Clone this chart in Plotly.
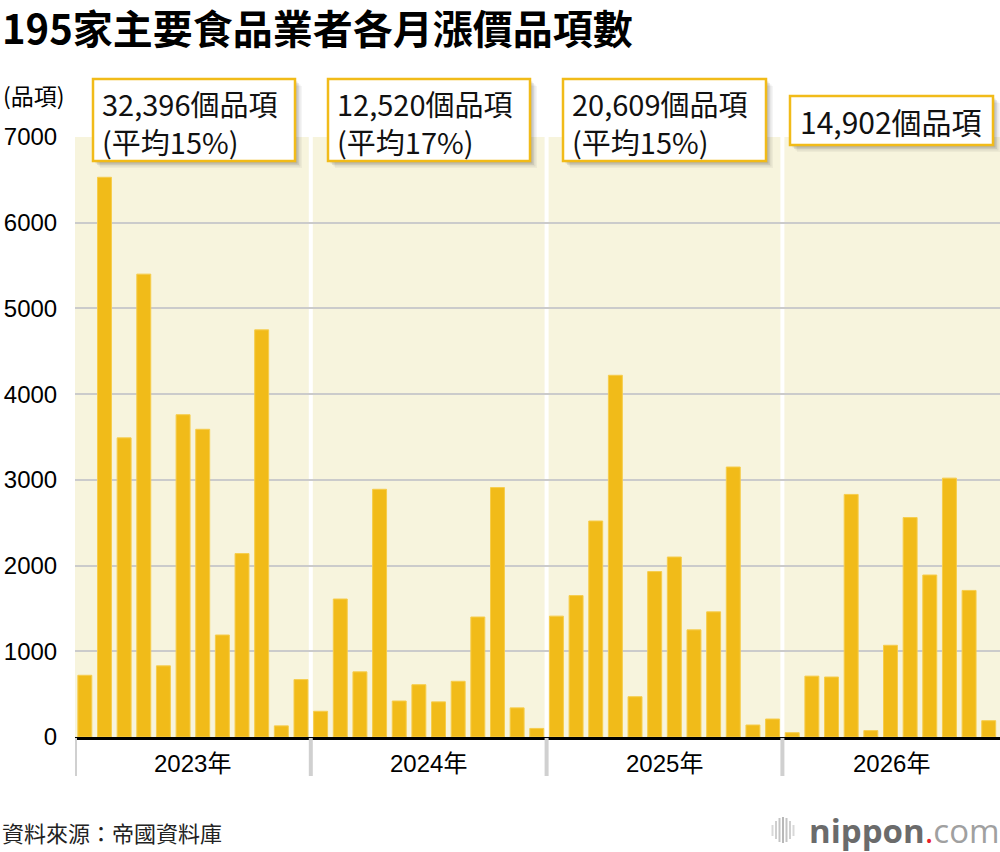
import plotly.graph_objects as go

# ---------------- data ----------------
years = ["2023年", "2024年", "2025年", "2026年"]
months = [f"{y}-{m:02d}" for y in (2023, 2024, 2025, 2026) for m in range(1, 13)][:47]
values_2023 = [720, 6530, 3490, 5400, 830, 3760, 3590, 1190, 2140, 4750, 130, 670]
values_2024 = [300, 1610, 760, 2890, 420, 610, 410, 650, 1400, 2910, 340, 100]
values_2025 = [1410, 1650, 2520, 4220, 470, 1930, 2100, 1250, 1460, 3150, 140, 210]
values_2026 = [50, 710, 700, 2830, 75, 1070, 2560, 1890, 3020, 1710, 190]
values = values_2023 + values_2024 + values_2025 + values_2026
totals = ["32,396個品項", "12,520個品項", "20,609個品項", "14,902個品項"]
averages = ["(平均15%)", "(平均17%)", "(平均15%)", None]
y_ticks = [0, 1000, 2000, 3000, 4000, 5000, 6000, 7000]

# ---------------- layout helpers ----------------
W, H = 1000, 852
L, R, T, B = 75, 0, 137, 115
PW, PH = W - L - R, H - T - B
STEP = 19.65


def px(x):
    return (x - L) / PW


def py(y):
    return (H - B - y) / PH


BAR = "#F1BB19"
CJK = "Noto Sans CJK TC"
NUM = "Liberation Sans, Noto Sans CJK TC"

fig = go.Figure()
fig.add_trace(go.Bar(
    x=months, y=values,
    marker=dict(color=BAR, line=dict(color="#F6CD4C", width=1)),
    hoverinfo="skip",
))

shapes = []
annotations = []

# year separators (white inside plot, gray below axis)
for i in range(4):
    xb = i * 12 - 0.5
    if i > 0:
        shapes.append(dict(type="line", xref="x", yref="paper", x0=xb, x1=xb, y0=0, y1=1,
                           line=dict(color="white", width=4), layer="below"))
    shapes.append(dict(type="line", xref="x", yref="paper", x0=xb, x1=xb, y0=py(738), y1=py(776),
                       line=dict(color="#D0D0D0", width=4)))

# year labels
year_centers = [5.5, 17.5, 29.5, None]
for i, yr in enumerate(years):
    if year_centers[i] is None:
        annotations.append(dict(text=yr, xref="paper", x=px(891), yref="paper", y=py(763),
                                showarrow=False, xanchor="center", yanchor="middle",
                                font=dict(family=NUM, size=24, color="black")))
    else:
        annotations.append(dict(text=yr, xref="x", x=year_centers[i], yref="paper", y=py(763),
                                showarrow=False, xanchor="center", yanchor="middle",
                                font=dict(family=NUM, size=24, color="black")))

# callout boxes
boxes = [(93, 295, 79, 161), (328, 530, 79, 161), (563, 766, 79, 161), (790, 993, 96, 145)]
for i, (x0, x1, y0, y1) in enumerate(boxes):
    for off, op in ((7, 0.04), (5.5, 0.06), (4, 0.08), (2.5, 0.1)):
        shapes.append(dict(type="rect", xref="paper", yref="paper",
                           x0=px(x0 + off), x1=px(x1 + off), y0=py(y0 + off), y1=py(y1 + off),
                           fillcolor=f"rgba(0,0,0,{op})", line=dict(width=0), layer="above"))
    shapes.append(dict(type="rect", xref="paper", yref="paper",
                       x0=px(x0), x1=px(x1), y0=py(y0), y1=py(y1),
                       fillcolor="white", line=dict(color=BAR, width=2.5), layer="above"))
    if averages[i] is None:
        annotations.append(dict(text=totals[i], xref="paper", yref="paper", x=px(x0 + 8), y=py(121),
                                xanchor="left", yanchor="middle", showarrow=False,
                                font=dict(family=CJK, size=30, color="#111")))
    else:
        annotations.append(dict(text=totals[i] + "<br>" + averages[i], xref="paper", yref="paper",
                                x=px(x0 + 7), y=py(122), xanchor="left", yanchor="middle",
                                align="left", showarrow=False,
                                font=dict(family=CJK, size=29, color="#111")))

# title, unit, source
annotations.append(dict(text="<b>195家主要食品業者各月漲價品項數</b>", xref="paper", yref="paper",
                        x=px(0), y=py(27), xanchor="left", yanchor="middle", showarrow=False,
                        font=dict(family=CJK, size=40, color="black")))
annotations.append(dict(text="(品項)", xref="paper", yref="paper", x=px(1), y=py(95),
                        xanchor="left", yanchor="middle", showarrow=False,
                        font=dict(family=CJK, size=23, color="black")))
annotations.append(dict(text="資料來源：帝國資料庫", xref="paper", yref="paper", x=px(0), y=py(832),
                        xanchor="left", yanchor="middle", showarrow=False,
                        font=dict(family=CJK, size=22, color="#222")))

# logo
annotations.append(dict(text="<b>nippon</b><span style='color:#E8202A'>.</span><span style='color:#A0A0A0'>com</span>",
                        xref="paper", yref="paper", x=px(807), y=py(830), xanchor="left", yanchor="middle",
                        showarrow=False, font=dict(family="Open Sans", size=33, color="#6B6B6B")))
icon = [(772.5, 825, 836, "#D8D8D8"), (776, 821, 839, "#CFCFCF"), (779.5, 818, 842, "#C4C4C4"),
        (783, 817, 843, "#B8B8B8"), (786.5, 818, 842, "#C4C4C4"), (790, 821, 839, "#CFCFCF"),
        (793.5, 825, 836, "#D8D8D8")]
for xi, ya, yb, c in icon:
    shapes.append(dict(type="line", xref="paper", yref="paper", x0=px(xi), x1=px(xi), y0=py(ya), y1=py(yb),
                       line=dict(color=c, width=2)))

fig.update_layout(
    width=W, height=H,
    margin=dict(l=L, r=R, t=T, b=B, pad=0),
    paper_bgcolor="white", plot_bgcolor="#F7F4DD",
    showlegend=False, bargap=0.29,
    shapes=shapes, annotations=annotations,
    xaxis=dict(type="category", range=[-0.5, -0.5 + PW / STEP], showticklabels=False, ticks="",
               showgrid=False, showline=True, linecolor="black", linewidth=2.5, zeroline=False,
               fixedrange=True),
    yaxis=dict(range=[0, 7000], tickvals=y_ticks, ticktext=[str(v) for v in y_ticks],
               showgrid=True, gridcolor="#CBCBCB", gridwidth=1.5, zeroline=False,
               ticks="outside", ticklen=12, tickcolor="rgba(0,0,0,0)",
               tickfont=dict(family=NUM, size=24, color="black"), showline=False, fixedrange=True),
)

fig.write_html("out.html")
